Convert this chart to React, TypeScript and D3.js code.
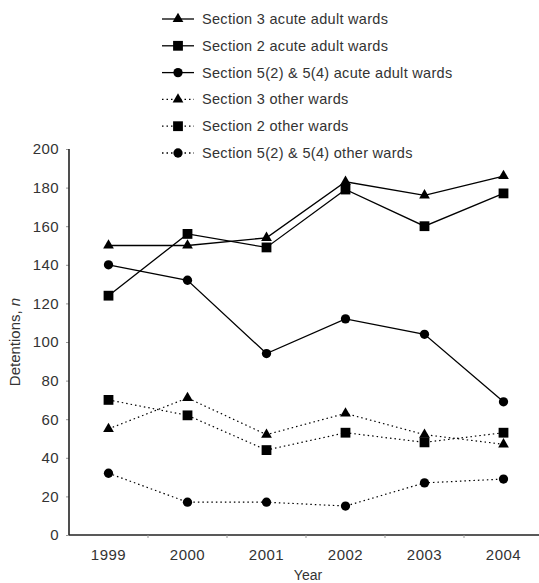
import * as d3 from 'd3'
import { useEffect, useRef } from 'react'

const years = ['1999', '2000', '2001', '2002', '2003', '2004']
const yTicks = [0, 20, 40, 60, 80, 100, 120, 140, 160, 180, 200]

const s3Acute = [150, 150, 154, 183, 176, 186]
const s2Acute = [124, 156, 149, 179, 160, 177]
const s5Acute = [140, 132, 94, 112, 104, 69]
const s3Other = [55, 71, 52, 63, 52, 47]
const s2Other = [70, 62, 44, 53, 48, 53]
const s5Other = [32, 17, 17, 15, 27, 29]

const seriesNames = [
    'Section 3 acute adult wards',
    'Section 2 acute adult wards',
    'Section 5(2) & 5(4) acute adult wards',
    'Section 3 other wards',
    'Section 2 other wards',
    'Section 5(2) & 5(4) other wards',
]

const WIDTH = 539
const HEIGHT = 583
const MARGIN = { top: 149, right: -4, bottom: 48, left: 69 }
const FONT = '"Liberation Sans", Arial, sans-serif'
const TEXT = '#333'

type Shape = 'triangle' | 'square' | 'circle'

interface Series {
    name: string
    values: number[]
    shape: Shape
    dotted: boolean
}

const series: Series[] = [
    { name: seriesNames[0], values: s3Acute, shape: 'triangle', dotted: false },
    { name: seriesNames[1], values: s2Acute, shape: 'square', dotted: false },
    { name: seriesNames[2], values: s5Acute, shape: 'circle', dotted: false },
    { name: seriesNames[3], values: s3Other, shape: 'triangle', dotted: true },
    { name: seriesNames[4], values: s2Other, shape: 'square', dotted: true },
    { name: seriesNames[5], values: s5Other, shape: 'circle', dotted: true },
]

const symbolPath = (shape: Shape) => {
    if (shape === 'triangle') return d3.symbol(d3.symbolTriangle, 50)()
    if (shape === 'square') return d3.symbol(d3.symbolSquare, 96)()
    return d3.symbol(d3.symbolCircle, 68)()
}

const AxisLeft = ({ scale }: { scale: d3.ScaleLinear<number, number> }) => {
    const ref = useRef<SVGGElement>(null)
    useEffect(() => {
        if (ref.current) {
            const g = d3.select(ref.current)
            g.call(d3.axisLeft(scale).tickValues(yTicks).tickSize(3).tickPadding(7).tickFormat(d3.format('d')))
            g.selectAll('text').style('font-family', FONT).style('font-size', '15px')
                .style('letter-spacing', '0.4px').attr('fill', TEXT)
            g.selectAll('line').attr('stroke', '#999')
            g.select('.domain').remove()
        }
    }, [scale])
    return <g ref={ref} />
}

const AxisBottom = ({ scale, transform }: { scale: d3.ScaleBand<string>, transform: string }) => {
    const ref = useRef<SVGGElement>(null)
    useEffect(() => {
        if (ref.current) {
            const g = d3.select(ref.current)
            g.call(d3.axisBottom(scale).tickSize(0).tickPadding(14))
            g.selectAll('text').style('font-family', FONT).style('font-size', '15px')
                .style('letter-spacing', '0.5px').attr('fill', TEXT)
            g.select('.domain').remove()
        }
    }, [scale])
    return <g ref={ref} transform={transform} />
}

export default function App() {
    const boundsWidth = WIDTH - MARGIN.left - MARGIN.right
    const boundsHeight = HEIGHT - MARGIN.top - MARGIN.bottom

    const xScale = d3.scaleBand<string>().domain(years).range([0, boundsWidth])
    const yScale = d3.scaleLinear().domain([0, 200]).range([boundsHeight, 0])
    const cx = (y: string) => (xScale(y) ?? 0) + xScale.bandwidth() / 2

    const line = d3.line<number>()
        .x((_, i) => cx(years[i]))
        .y((d) => yScale(d))

    const legendX = 162
    const legendY = 19
    const legendStep = 26.8

    return (
        <svg width={WIDTH} height={HEIGHT} style={{ position: 'absolute', left: 0, top: 0, background: '#fff' }}>
            {/* legend */}
            <g transform={`translate(${legendX},${legendY})`}>
                {series.map((s, i) => (
                    <g key={s.name} transform={`translate(0,${i * legendStep})`}>
                        <line x1={0} x2={32} y1={0} y2={0} stroke="#000" strokeWidth={1.3}
                            strokeDasharray={s.dotted ? '1.5,3' : undefined} />
                        <path d={symbolPath(s.shape) as string} transform="translate(16,0)" fill="#000" />
                        <text x={40} y={5} fontFamily={FONT} fontSize={14.5} letterSpacing={0.3} fill={TEXT}>{s.name}</text>
                    </g>
                ))}
            </g>

            <g transform={`translate(${MARGIN.left},${MARGIN.top})`}>
                <AxisLeft scale={yScale} />
                <AxisBottom scale={xScale} transform={`translate(0,${boundsHeight})`} />
                {/* axis lines */}
                <line x1={0} x2={0} y1={0} y2={boundsHeight} stroke="#222" strokeWidth={1.6} />
                <line x1={0} x2={WIDTH - MARGIN.left} y1={boundsHeight} y2={boundsHeight} stroke="#222" strokeWidth={1.6} />
                {years.slice(1).map((y) => (
                    <line key={y} x1={xScale(y)} x2={xScale(y)} y1={boundsHeight} y2={boundsHeight + 3} stroke="#999" />
                ))}

                {series.map((s) => (
                    <g key={s.name}>
                        <path d={line(s.values) as string} fill="none" stroke="#000"
                            strokeWidth={s.dotted ? 1.2 : 1.3}
                            strokeDasharray={s.dotted ? '1.5,3' : undefined} />
                        {s.values.map((v, i) => (
                            <path key={i} d={symbolPath(s.shape) as string} fill="#000"
                                transform={`translate(${cx(years[i])},${yScale(v)})`} />
                        ))}
                    </g>
                ))}

                <text transform={`translate(${-49},${boundsHeight / 2}) rotate(-90)`} textAnchor="middle"
                    fontFamily={FONT} fontSize={15} fill={TEXT}>
                    Detentions, <tspan fontStyle="italic">n</tspan>
                </text>
            </g>
            <text x={308} y={580} textAnchor="middle" fontFamily={FONT} fontSize={14} fill={TEXT}>Year</text>
        </svg>
    )
}
